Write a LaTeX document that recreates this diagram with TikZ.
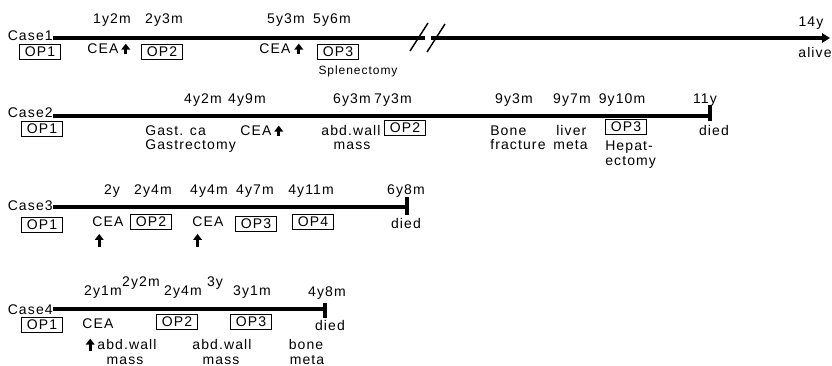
\documentclass[tikz,border=0pt]{standalone}
\usepackage{fontspec}
\setmainfont[LetterSpace=8]{Liberation Sans}
\usetikzlibrary{positioning,arrows.meta}

\begin{document}
\begin{tikzpicture}[
  x=0.75pt, y=-0.75pt,
  font=\fontsize{10.5}{12}\selectfont,
  every node/.style={inner sep=0pt, text height=7.5pt, text depth=0pt},
  tl/.style={line width=3.3pt},
  stopbar/.style={line width=3pt},
  brk/.style={line width=1.1pt},
  op/.style={draw, line width=0.6pt, inner xsep=3.8pt, minimum height=11.25pt},
  sm/.style={font=\fontsize{9}{10}\selectfont},
  up/.style={-{Triangle[length=4.5pt,width=6.5pt]}, line width=2.2pt}
]
\useasboundingbox (0,0) rectangle (832,366);

% Case 1
\node[anchor=east] (c1) at (53,35.5) {Case1};
\coordinate (b1l) at (425,38);
\coordinate (b1r) at (431,38);
\coordinate (e1) at (830,38);
\node (t11) at (112,19) {1y2m};
\node (t12) at (164,19) {2y3m};
\node (t13) at (286,19) {5y3m};
\node (t14) at (332,19) {5y6m};
\node (t15) at (811,21.5) {14y};
\node[op] (op11) at (40,52) {OP1};
\node (cea11) at (103,49) {CEA};
\node[op] (op12) at (162,52) {OP2};
\node (cea12) at (275,49) {CEA};
\node[op] (op13) at (338,52) {OP3};
\node[sm] (spl) at (358,69.5) {Splenectomy};
\node (alive) at (815,52.5) {alive};
\draw[tl] (c1.east |- b1l) -- (b1l);
\draw[tl, -{Triangle[length=6pt,width=7pt]}] (b1r) -- (e1);
\draw[brk] (410,51) -- (428,23);
\draw[brk] (427,52) -- (445,24);
\draw[up] ([xshift=5.25pt]cea11.south east) -- ([xshift=5.25pt,yshift=8pt]cea11.south east);
\draw[up] ([xshift=6pt]cea12.south east) -- ([xshift=6pt,yshift=8pt]cea12.south east);

% Case 2
\node[anchor=east] (c2) at (53,113) {Case2};
\coordinate (e2) at (710,116);
\node (t21) at (203,99) {4y2m};
\node (t22) at (247,99) {4y9m};
\node (t23) at (352,99) {6y3m};
\node (t24) at (393,99) {7y3m};
\node (t25) at (514,99) {9y3m};
\node (t26) at (572,99) {9y7m};
\node (t27) at (622,99) {9y10m};
\node (t28) at (705,99) {11y};
\node[op] (op21) at (42,129) {OP1};
\node[anchor=west] (gca) at (145,131) {Gast. ca};
\node[anchor=west] (gas) at (145,145) {Gastrectomy};
\node (cea21) at (256,131) {CEA};
\node (abd21) at (351,131) {abd.wall};
\node (mas21) at (352,145) {mass};
\node[op] (op22) at (405,128) {OP2};
\node[anchor=west] (bon21) at (490,131) {Bone};
\node[anchor=west] (fra21) at (490,145) {fracture};
\node[anchor=west] (liv21) at (556,131) {liver};
\node[anchor=west] (met21) at (553,145) {meta};
\node[op] (op23) at (626,127) {OP3};
\node[anchor=west] (hep21) at (605,146) {Hepat-};
\node[anchor=west] (ect21) at (605,161) {ectomy};
\node (died2) at (714,131) {died};
\draw[tl] (c2.east |- e2) -- (e2);
\draw[stopbar] ([yshift=8.25pt]e2) -- ([yshift=-3.5pt]e2);
\draw[up] ([xshift=5.25pt]cea21.south east) -- ([xshift=5.25pt,yshift=8pt]cea21.south east);

% Case 3
\node[anchor=east] (c3) at (53,206) {Case3};
\coordinate (e3) at (407,207);
\node (t31) at (112,190) {2y};
\node (t32) at (153,190) {2y4m};
\node (t33) at (209,190) {4y4m};
\node (t34) at (255,190) {4y7m};
\node (t35) at (311,190) {4y11m};
\node (t36) at (406,190) {6y8m};
\node[op] (op31) at (42,225) {OP1};
\node (cea31) at (108,222) {CEA};
\node[op] (op32) at (151,222) {OP2};
\node (cea32) at (208,222) {CEA};
\node[op] (op33) at (256,224) {OP3};
\node[op] (op34) at (313,222) {OP4};
\node (died3) at (406,224) {died};
\draw[tl] (c3.east |- e3) -- (e3);
\draw[stopbar] ([yshift=7.5pt]e3) -- ([yshift=-6pt]e3);
\draw[up] ([xshift=5.25pt,yshift=-15pt]cea31.south west) -- ([xshift=5.25pt,yshift=-5pt]cea31.south west);
\draw[up] ([xshift=4pt,yshift=-15pt]cea32.south west) -- ([xshift=4pt,yshift=-5pt]cea32.south west);

% Case 4
\node[anchor=east] (c4) at (53,310) {Case4};
\coordinate (e4) at (325,309);
\node (t41) at (103,291) {2y1m};
\node (t42) at (141,282) {2y2m};
\node (t43) at (183,291) {2y4m};
\node (t44) at (215,282) {3y};
\node (t45) at (252,291) {3y1m};
\node (t46) at (327,292) {4y8m};
\node[op] (op41) at (42,325) {OP1};
\node (cea41) at (98,324) {CEA};
\node (abd41) at (127,345) {abd.wall};
\node (mas41) at (125,360) {mass};
\node[op] (op42) at (177,322) {OP2};
\node (abd42) at (222,345) {abd.wall};
\node (mas42) at (221,360) {mass};
\node[op] (op43) at (251,322) {OP3};
\node (died4) at (330,326) {died};
\node (bon41) at (306,345) {bone};
\node (met41) at (307,360) {meta};
\draw[tl] (c4.east |- e4) -- (e4);
\draw[stopbar] ([yshift=4.5pt]e4) -- ([yshift=-6.5pt]e4);
\draw[up] ([xshift=6pt,yshift=-16pt]cea41.south west) -- ([xshift=6pt,yshift=-7pt]cea41.south west);
\end{tikzpicture}
\end{document}
